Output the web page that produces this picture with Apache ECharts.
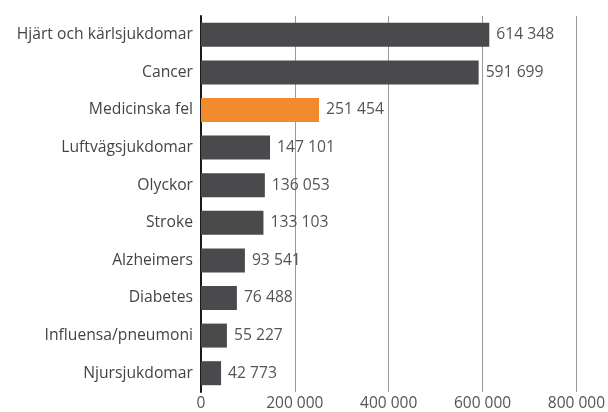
<!DOCTYPE html>
<html>
<head>
<meta charset="utf-8">
<script src="https://cdn.jsdelivr.net/npm/echarts@6/dist/echarts.min.js"></script>
<style>
  html, body { margin: 0; padding: 0; background: #fff; }
  #chart { width: 608px; height: 412px; }
</style>
</head>
<body>
<div id="chart"></div>
<script>
// data
var categories = ['Hjärt och kärlsjukdomar', 'Cancer', 'Medicinska fel', 'Luftvägsjukdomar',
  'Olyckor', 'Stroke', 'Alzheimers', 'Diabetes', 'Influensa/pneumoni', 'Njursjukdomar'];
var values = [614348, 591699, 251454, 147101, 136053, 133103, 93541, 76488, 55227, 42773];
var highlight = 'Medicinska fel';
var xTicks = [0, 200000, 400000, 600000, 800000];

function fmt(v) {
  return String(v).replace(/\B(?=(\d{3})+(?!\d))/g, ' ');
}

var myChart = echarts.init(document.getElementById('chart'));
myChart.setOption({
  animation: false,
  textStyle: { fontFamily: 'Open Sans' },
  grid: { left: 201, right: 31, top: 16, bottom: 20, containLabel: false },
  xAxis: {
    type: 'value',
    min: xTicks[0],
    max: xTicks[xTicks.length - 1],
    interval: 200000,
    axisLine: { show: false },
    axisTick: { show: false },
    splitLine: { show: true, lineStyle: { color: '#9a9a9a', width: 1 } },
    axisLabel: {
      color: '#555', fontSize: 15.5, margin: 4,
      formatter: function (v) { return fmt(v); }
    }
  },
  yAxis: {
    type: 'category',
    inverse: true,
    data: categories,
    axisLine: { show: true, lineStyle: { color: '#1a1a1a', width: 2 } },
    axisTick: { show: false },
    axisLabel: { color: '#444', fontSize: 15.7, margin: 8 }
  },
  series: [{
    type: 'bar',
    barWidth: 24,
    data: values.map(function (v, i) {
      return {
        value: v,
        itemStyle: { color: categories[i] === highlight ? '#f28a2e' : '#4a4a4c' }
      };
    }),
    label: {
      show: true,
      position: 'right',
      distance: 7,
      color: '#555',
      fontSize: 15.7,
      formatter: function (p) { return fmt(p.value); }
    }
  }]
});
</script>
</body>
</html>
